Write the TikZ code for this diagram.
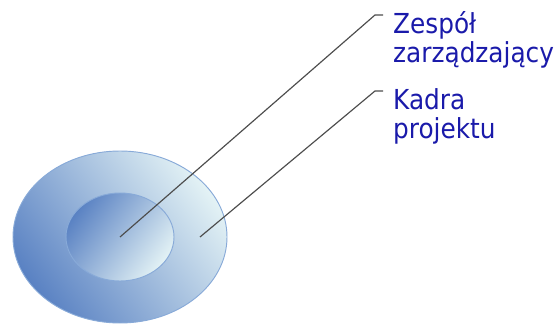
\documentclass[tikz,border=0pt]{standalone}
\usepackage{fontspec}
\usetikzlibrary{shapes.geometric}
\newfontfamily\lblfont{DejaVu Sans Condensed}
\definecolor{rimc}{HTML}{88AAD8}
\definecolor{darkc}{HTML}{5A82C3}
\definecolor{midc}{HTML}{C2D7E9}
\definecolor{palec}{HTML}{D2E5EF}
\definecolor{lightc}{HTML}{E3F2F5}
\definecolor{leadc}{HTML}{4D4D4D}
\definecolor{textc}{HTML}{1A1AAA}
\tikzset{
  ring/.style={ellipse, draw=rimc, line width=0.8pt, inner sep=0pt},
  lead/.style={draw=leadc, line width=1pt},
  lbl/.style={font=\lblfont\fontsize{23.5}{25}\selectfont, text=textc, align=left, inner sep=0pt},
}

\begin{document}
\begin{tikzpicture}[x=1cm, y=1cm]
\useasboundingbox (0,0) rectangle (16.8,9.75);
% the two circles of the project
\node[ring, minimum width=6.42cm, minimum height=5.16cm,
      left color=darkc, middle color=palec, right color=lightc, shading angle=126] (outer) at (3.6,2.64) {};
\node[ring, minimum width=3.24cm, minimum height=2.64cm,
      left color=darkc, middle color=midc, right color=lightc, shading angle=54] (inner) at (3.6,2.64) {};
\coordinate (band) at (6.0,2.64);
% labels and their leaders
\node[lbl, anchor=base west] (zespol) at (11.79,7.88) {Zespół\\zarządzający};
\node[lbl, anchor=base west] (kadra) at (11.79,5.6) {Kadra\\projektu};
\coordinate (zk) at (11.25,9.3);
\coordinate (ze) at (11.49,9.3);
\coordinate (kk) at (11.25,7.02);
\coordinate (ke) at (11.49,7.02);
\draw[lead] (inner.center) -- (zk) -- (ze);
\draw[lead] (band) -- (kk) -- (ke);
\end{tikzpicture}
\end{document}
